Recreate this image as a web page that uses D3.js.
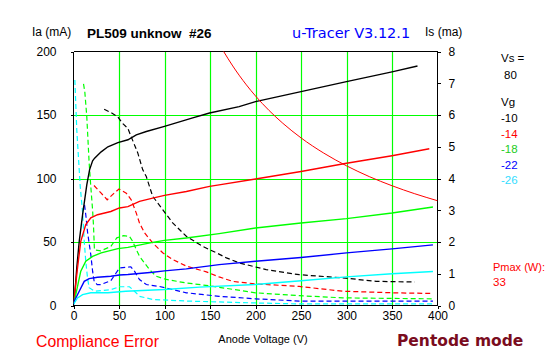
<!DOCTYPE html>
<html><head><meta charset="utf-8">
<script src="https://cdn.jsdelivr.net/npm/d3@7/dist/d3.min.js"></script>
<style>body{margin:0;background:#fff}svg{display:block}</style>
</head><body><svg id="c" width="547" height="357"></svg>
<script>
// ---------- data ----------
const xTicks = [0, 50, 100, 150, 200, 250, 300, 350, 400];
const iaTicks = [0, 50, 100, 150, 200];
const isTicks = [0, 1, 2, 3, 4, 5, 6, 7, 8];
const vgLabels = ["-10", "-14", "-18", "-22", "-26"];
const vsValue = "80";
const pmaxValue = "33";

// Anode current Ia (mA) vs anode voltage (V)
const ia10 = [[0.5,2],[1.4,8.6],[3.6,29.6],[6.3,50.5],[10,71.5],[14.6,95],[17.7,107],[21,114],[23.2,116],[30.4,121],[37.8,125],[48.8,128.3],[59.8,130.5],[69,134.4],[80,137],[100,141],[131,147.7],[149.5,151.6],[182,156.6],[200,160.5],[250,168.4],[300,176.3],[350,184],[378,188.6]];
const ia14 = [[0.5,2],[0.8,6],[4.4,29.6],[8,50.5],[13.5,63.7],[19,69],[26.4,71.5],[41,74],[50.5,76.8],[59.8,77.8],[72.5,82],[87,84.6],[100,86.7],[124,89.8],[149.5,93.8],[160,95],[200,99.6],[250,105.5],[300,112],[350,117.9],[391,123.4]];
const ia18 = [[0.5,2],[2.5,8.6],[8,27],[13.5,34.8],[21,38.7],[30.4,41.4],[48.8,44.8],[59.8,45.8],[87,49.7],[100,51.3],[124,53.2],[160,56.6],[200,61],[250,65],[300,68.4],[350,72.8],[395,77.6]];
const ia22 = [[0.5,1],[0.8,3.4],[6.3,11.2],[11.8,19],[17.2,21.2],[26.4,22.2],[41,23],[50.5,24],[59.8,24.4],[87,26.2],[100,27.3],[124,28.8],[149.5,31.2],[160,32.2],[200,34.8],[250,37.8],[300,41.4],[350,44.6],[395,47.7]];
const ia26 = [[0.5,1],[1,2],[4.4,6],[10,8.6],[19,10],[37.8,10],[57.5,11.2],[100,12.6],[138.5,14.5],[200,16.5],[250,19.5],[300,22.5],[350,25],[395,26.8]];

// Screen current Is (mA) vs anode voltage (V)
const is10 = [[33.7,6.18],[41,6.08],[48.4,5.95],[53.8,5.74],[59.7,5.58],[65,5.2],[70.7,4.8],[76,4.28],[80,4.06],[87,3.44],[98,3.02],[109,2.6],[124,2.18],[142,1.86],[157,1.66],[168,1.5],[182.4,1.34],[211.7,1.13],[248,0.97],[296,0.87],[332.6,0.76],[375,0.74]];
const is14 = [[22.5,3.78],[30.4,3.54],[37,3.33],[43.2,3.5],[50,3.67],[58,3.54],[63.4,3.33],[69,2.91],[72.5,2.6],[78,2.29],[87,1.97],[98,1.66],[109,1.45],[124,1.24],[146,1.06],[160,0.9],[175,0.76],[200,0.68],[248,0.6],[296,0.45],[351,0.4],[392,0.38]];
const is18 = [[11,6.98],[12.4,6.74],[14.6,5.95],[17.2,4.49],[19,3.75],[21,3.0],[22,2.5],[23,1.75],[30,1.72],[41,1.86],[47.6,2.13],[55,2.2],[61.5,2.18],[65,2.02],[69,1.76],[72.5,1.55],[78,1.34],[83.5,1.13],[91,0.92],[102,0.82],[124,0.71],[149.5,0.62],[200,0.4],[248,0.31],[296,0.24],[395,0.21]];
const is22 = [[12.1,3.17],[13.5,2.86],[15.5,2.3],[19,1.6],[21,1.08],[22.7,0.76],[26,0.66],[30,0.66],[41,0.78],[50.5,1.18],[63,1.22],[67,1.08],[72.5,0.82],[80,0.66],[94.5,0.6],[124,0.4],[160,0.29],[200,0.21],[248,0.14],[395,0.14]];
const is26 = [[1.5,7.1],[3.6,5.53],[7.4,3.75],[9.9,2.96],[11.8,2.02],[13.5,1.39],[15.4,0.87],[17.2,0.56],[23,0.45],[41,0.5],[50.5,0.59],[61.5,0.59],[67,0.45],[72.5,0.29],[87,0.19],[124,0.14],[200,0.08],[248,0.05],[395,0.05]];

// Max dissipation curve (mA vs V)
const pmaxCurve = [[160,206],[165,200],[175,188.6],[190,173.7],[200,165],[215,153.5],[230,143.5],[250,132],[275,120],[300,110],[325,101.5],[350,94.3],[375,88],[400,82.5]];

const iaSeries = [ia10, ia14, ia18, ia22, ia26];
const isSeries = [is10, is14, is18, is22, is26];
const curveColors = ["#000000", "#ff0000", "#00ff00", "#0000ff", "#00ffff"];
const legendColors = ["#000000", "#ff0000", "#22cc22", "#0000ff", "#33ddff"];

// ---------- layout ----------
const L = 73.5, R = 437.5, T = 51.5, B = 305.5;
const svg = d3.select("#c");
const x = d3.scaleLinear().domain([0, 400]).range([L, R]);
const yIa = d3.scaleLinear().domain([0, 200]).range([B, T]);
const yIs = d3.scaleLinear().domain([0, 8]).range([B, T]);
const txt = "'Liberation Sans', Arial, sans-serif";
const ver = "'DejaVu Sans', Verdana, sans-serif";

svg.append("defs").append("clipPath").attr("id", "clip")
  .append("rect").attr("x", L).attr("y", T).attr("width", R - L).attr("height", B - T);

// grid
const grid = svg.append("g").attr("stroke", "#00ff00").attr("stroke-width", 1.2);
grid.selectAll(".v").data(xTicks.slice(1, -1)).join("line")
  .attr("x1", d => Math.round(x(d)) + 0.5).attr("x2", d => Math.round(x(d)) + 0.5).attr("y1", T).attr("y2", B);
grid.selectAll(".h").data(iaTicks.slice(1, -1)).join("line")
  .attr("x1", L).attr("x2", R).attr("y1", d => Math.round(yIa(d)) + 0.5).attr("y2", d => Math.round(yIa(d)) + 0.5);

// axes
const axL = svg.append("g").attr("transform", `translate(${L},0)`)
  .call(d3.axisLeft(yIa).tickValues(iaTicks).tickSize(3).tickPadding(14));
const axR = svg.append("g").attr("transform", `translate(${R},0)`)
  .call(d3.axisRight(yIs).tickValues(isTicks).tickSize(3).tickPadding(8));
const axB = svg.append("g").attr("transform", `translate(0,${B})`)
  .call(d3.axisBottom(x).tickValues(xTicks).tickSize(3).tickPadding(3));
const axT = svg.append("g").attr("transform", `translate(0,${T})`)
  .call(d3.axisTop(x).tickValues([]).tickSizeOuter(0));
[axL, axR, axB, axT].forEach(a => {
  a.selectAll("path").attr("stroke", "#000").attr("shape-rendering", "crispEdges");
  a.selectAll("line").attr("stroke", "#000").attr("shape-rendering", "crispEdges");
  a.selectAll("text").attr("font-family", txt).attr("font-size", 12).attr("fill", "#000");
});
axL.select("path").attr("d", `M0,${B}V${T}`);
axR.select("path").attr("d", `M0,${B}V${T}`);
axB.select("path").attr("d", `M${L},0H${R}`);
axT.select("path").attr("d", `M${L},0H${R}`);

// curves
const line = d3.line().x(d => x(d[0])).curve(d3.curveLinear);
const plot = svg.append("g").attr("clip-path", "url(#clip)").attr("fill", "none");
isSeries.forEach((s, i) => {
  plot.append("path").datum(s)
    .attr("d", line.y(d => yIs(d[1]))(s))
    .attr("stroke", curveColors[i]).attr("stroke-width", 1.2).attr("stroke-dasharray", "5,3");
});
iaSeries.forEach((s, i) => {
  plot.append("path").datum(s)
    .attr("d", line.y(d => yIa(d[1]))(s))
    .attr("stroke", curveColors[i]).attr("stroke-width", 1.4);
});
plot.append("path").datum(pmaxCurve)
  .attr("d", d3.line().x(d => x(d[0])).y(d => yIa(d[1])).curve(d3.curveMonotoneX)(pmaxCurve))
  .attr("stroke", "#ff0000").attr("stroke-width", 1);

// header texts
svg.append("text").attr("x", 32).attr("y", 36).attr("font-family", txt).attr("font-size", 12).text("Ia (mA)");
svg.append("text").attr("x", 87).attr("y", 37.5).attr("font-family", txt)
  .attr("font-weight", "bold").attr("font-size", 13.5).attr("xml:space", "preserve").text("PL509 unknow  #26");
svg.append("text").attr("x", 292).attr("y", 37.5).attr("font-family", ver)
  .attr("font-size", 14.5).attr("fill", "#0000ff").text("u-Tracer V3.12.1");
svg.append("text").attr("x", 425).attr("y", 36).attr("font-family", txt).attr("font-size", 12).text("Is (ma)");

// legend
const lg = svg.append("g").attr("font-family", txt).attr("font-size", 11.5);
lg.append("text").attr("x", 501).attr("y", 62).text("Vs =");
lg.append("text").attr("x", 504).attr("y", 79).text(vsValue);
lg.append("text").attr("x", 501).attr("y", 106).text("Vg");
lg.selectAll(".vg").data(vgLabels).join("text")
  .attr("x", 501).attr("y", (d, i) => 122 + i * 15.6).attr("fill", (d, i) => legendColors[i]).text(d => d);
lg.append("text").attr("x", 493).attr("y", 271).attr("fill", "#ff0000").attr("font-size", 11).text("Pmax (W):");
lg.append("text").attr("x", 493).attr("y", 286).attr("fill", "#ff0000").text(pmaxValue);

// footer
svg.append("text").attr("x", 263).attr("y", 343).attr("text-anchor", "middle").attr("font-family", txt).attr("font-size", 11).text("Anode Voltage (V)");
svg.append("text").attr("x", 36).attr("y", 347).attr("font-family", txt).attr("font-size", 15.8).attr("fill", "#ff0000").text("Compliance Error");
svg.append("text").attr("x", 397).attr("y", 346).attr("font-family", ver)
  .attr("font-weight", "bold").attr("font-size", 15.5).attr("fill", "#7a0c1e").text("Pentode mode");
</script></body></html>
